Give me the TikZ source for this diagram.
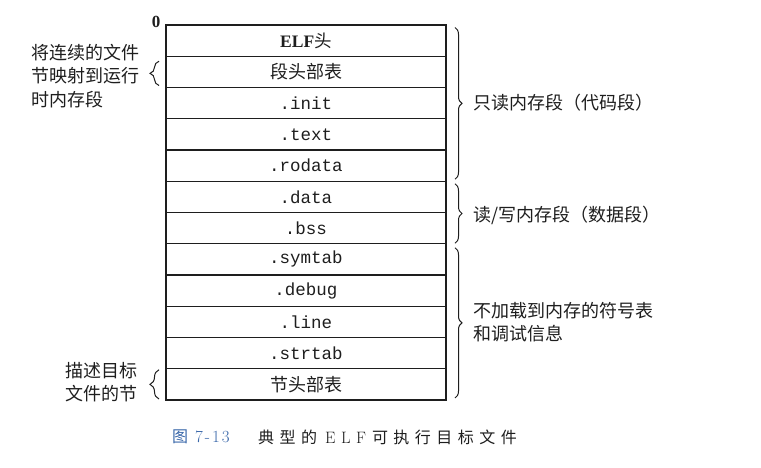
\documentclass[tikz,border=0pt]{standalone}
\usepackage{fontspec}
\usetikzlibrary{decorations.pathreplacing}
\newfontfamily\cjk{Noto Sans CJK SC}
\newfontfamily\mono{Liberation Mono}
\newfontfamily\tnr{Liberation Serif}
\definecolor{ink}{RGB}{30,30,30}
\definecolor{capblue}{RGB}{58,104,170}
\newcommand{\tsp}{\kern5.5pt}
\begin{document}
\begin{tikzpicture}[x=1pt,y=-1pt,
  seg/.style={draw=ink, line width=1.2pt, minimum width=280pt, minimum height=31.25pt,
    inner sep=0pt, outer sep=0pt, anchor=north, text=ink,
    font=\mono\fontsize{17.5}{17.5}\selectfont},
  cnseg/.style={font=\cjk\fontsize{18}{18}\selectfont},
  brc/.style={draw=ink, decorate, decoration={brace, amplitude=#1}, line width=1pt},
  brc/.default=7pt,
  lbl/.style={font=\cjk\fontsize{18}{23.5}\selectfont, align=left, inner sep=0pt, text=ink}]
\useasboundingbox[fill=white] (0,0) rectangle (761,468);

% the stacked sections of the file
\node[seg] (r1) at (306,25) {{\tnr\bfseries ELF}{\cjk 头}};
\node[seg, cnseg] (r2) at (r1.south) {段头部表};
\node[seg] (r3) at (r2.south) {.init};
\node[seg] (r4) at (r3.south) {.text};
\node[seg] (r5) at (r4.south) {.rodata};
\node[seg] (r6) at (r5.south) {.data};
\node[seg] (r7) at (r6.south) {.bss};
\node[seg] (r8) at (r7.south) {.symtab};
\node[seg] (r9) at (r8.south) {.debug};
\node[seg] (r10) at (r9.south) {.line};
\node[seg] (r11) at (r10.south) {.strtab};
\node[seg, cnseg] (r12) at (r11.south) {节头部表};

% address zero
\node[font=\tnr\bfseries\fontsize{17}{17}\selectfont, text=ink] (zero) at (156,22) {0};

% right-hand braces and their labels
\draw[brc] ([xshift=9pt,yshift=-2.5pt]r1.north east) -- ([xshift=9pt,yshift=2pt]r5.south east);
\draw[brc] ([xshift=9pt,yshift=-2.5pt]r6.north east) -- ([xshift=9pt,yshift=0.5pt]r7.south east);
\draw[brc] ([xshift=9pt,yshift=-4pt]r8.north east) -- ([xshift=9pt,yshift=2pt]r12.south east);
\node[lbl, anchor=west] (ro) at (473,103) {只读内存段（代码段）};
\node[lbl, anchor=west] (rw) at (473,215) {读/写内存段（数据段）};
\node[lbl, anchor=west] (nl) at (473,322) {不加载到内存的符号表\\和调试信息};

% left-hand braces and their labels
\draw[brc=9pt] ([xshift=-7pt,yshift=2pt]r2.south west) -- ([xshift=-7pt,yshift=-5pt]r2.north west);
\draw[brc=9pt] ([xshift=-7pt,yshift=1pt]r12.south west) -- ([xshift=-7pt,yshift=-1pt]r12.north west);
\node[lbl, anchor=west] (map) at (31,76) {将连续的文件\\节映射到运行\\时内存段};
\node[lbl, anchor=west] (desc) at (65,382) {描述目标\\文件的节};

% caption
\node[anchor=west, inner sep=0pt, text=capblue, font=\fontsize{17}{17}\selectfont] (capnum) at (172,437)
  {{\cjk\fontsize{16}{16}\selectfont 图}\kern7pt 7\kern2pt-\kern2pt1\kern2pt3};
\node[anchor=west, inner sep=0pt, text=ink, font=\cjk\fontsize{16}{16}\selectfont] (captxt) at (258,437)
  {典\tsp 型\tsp 的\kern8pt{\rmfamily\fontsize{16.5}{16.5}\selectfont E\tsp L\tsp F}\kern6pt 可\tsp 执\tsp 行\tsp 目\tsp 标\tsp 文\tsp 件};
\end{tikzpicture}
\end{document}
